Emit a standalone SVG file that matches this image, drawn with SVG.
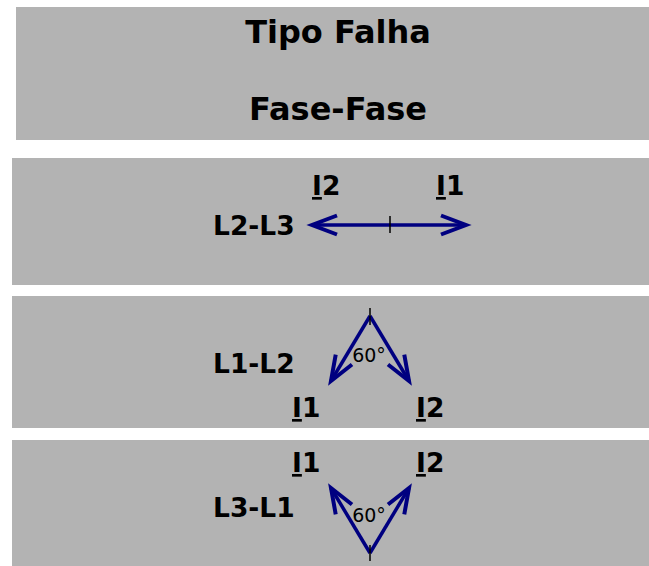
<svg xmlns="http://www.w3.org/2000/svg" width="649" height="566" viewBox="0 0 649 566">
<style>
.bg{fill:#b3b3b3}
.t{font-family:"DejaVu Sans",sans-serif;font-weight:bold;fill:#000}
.title{font-size:32px;text-anchor:middle}
.lab{font-size:26.5px}
.ang{font-family:"DejaVu Sans",sans-serif;font-size:19px;fill:#000;text-anchor:middle}
.vec{stroke:#000080;stroke-width:3.5;fill:none;marker-end:url(#ah)}
.tick{stroke:#000;stroke-width:1.5}
.u{text-decoration:underline}
</style>
<defs>
<marker id="ah" markerUnits="userSpaceOnUse" orient="auto" refX="0" refY="0" markerWidth="60" markerHeight="60" overflow="visible">
<path d="M -25 -9.5 L 0 0 L -25 9.5" stroke="#000080" stroke-width="4" fill="none" stroke-linecap="butt" stroke-linejoin="miter"/>
</marker>
</defs>
<g id="header">
<rect class="bg" x="16" y="7" width="633" height="133"/>
<text class="t title" x="338" y="43">Tipo Falha</text>
<text class="t title" x="338" y="120">Fase-Fase</text>
</g>
<g id="panel-l2l3">
<rect class="bg" x="12" y="158" width="637" height="127"/>
<text class="t lab" x="213" y="235">L2-L3</text>
<text class="t lab" x="312" y="195"><tspan class="u">I</tspan>2</text>
<text class="t lab" x="436" y="195"><tspan class="u">I</tspan>1</text>
</g>
<g id="panel-l1l2">
<rect class="bg" x="12" y="296" width="637" height="132"/>
<text class="t lab" x="213" y="373">L1-L2</text>
<text class="t lab" x="292" y="417"><tspan class="u">I</tspan>1</text>
<text class="t lab" x="416" y="417"><tspan class="u">I</tspan>2</text>
<text class="ang" x="369" y="362">60°</text>
</g>
<g id="panel-l3l1">
<rect class="bg" x="12" y="440" width="637" height="126"/>
<text class="t lab" x="213" y="517">L3-L1</text>
<text class="t lab" x="292" y="472"><tspan class="u">I</tspan>1</text>
<text class="t lab" x="416" y="472"><tspan class="u">I</tspan>2</text>
<text class="ang" x="369" y="522">60°</text>
</g>
<g id="connectors">
<line class="vec" x1="390" y1="225" x2="466" y2="225"/>
<line class="vec" x1="390" y1="225" x2="312" y2="225"/>
<line class="tick" x1="390" y1="216" x2="390" y2="233"/>
<line class="vec" x1="370" y1="316" x2="331" y2="381"/>
<line class="vec" x1="370" y1="316" x2="409" y2="381"/>
<line class="tick" x1="370" y1="308" x2="370" y2="325"/>
<line class="vec" x1="370" y1="553" x2="331" y2="488"/>
<line class="vec" x1="370" y1="553" x2="409" y2="488"/>
<line class="tick" x1="370" y1="545" x2="370" y2="561"/>
</g>
</svg>
